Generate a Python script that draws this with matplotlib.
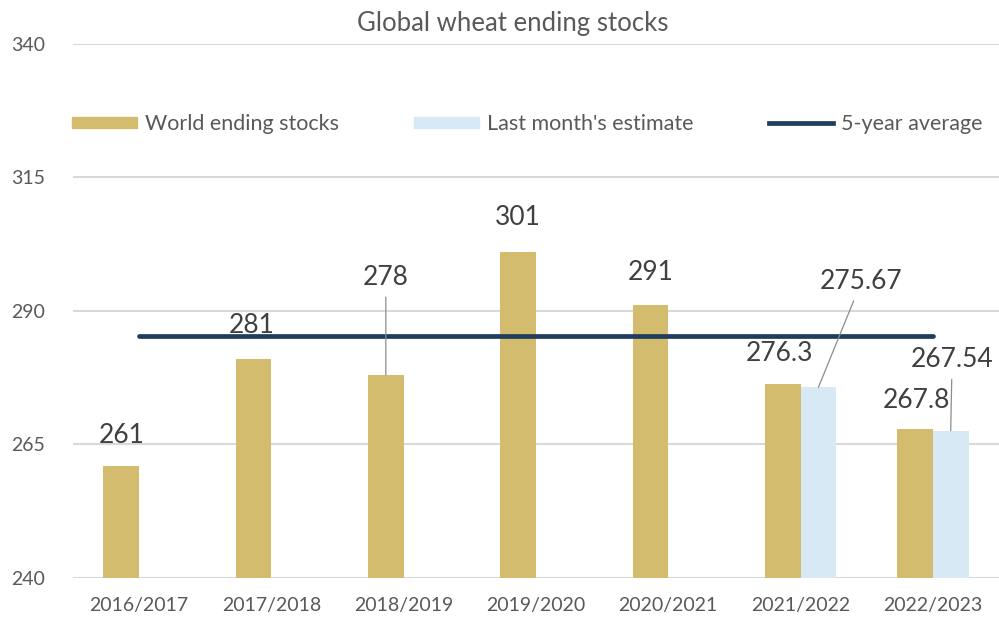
import numpy as np
import matplotlib
matplotlib.use("Agg")
import matplotlib.pyplot as plt
from matplotlib.lines import Line2D
from matplotlib.patches import Patch

plt.rcParams['font.family'] = ['Lato', 'DejaVu Sans']

seasons = ["2016/2017", "2017/2018", "2018/2019", "2019/2020",
           "2020/2021", "2021/2022", "2022/2023"]
world_stocks = [261, 281, 278, 301, 291, 276.3, 267.8]
# last month's estimate only exists for the two latest seasons
last_month = [None, None, None, None, None, 275.67, 267.54]
five_year_avg = 285.3

tan = "#d4bc6e"
light_blue = "#d7e9f5"
navy = "#1f3d5c"
grey_text = "#595959"
label_text = "#404040"

fig = plt.figure(figsize=(9.99, 6.24), dpi=100)
ax = fig.add_axes([0.073, 0.074, 0.927, 0.856])

x = np.arange(len(seasons))
w = 0.27

world_bars = ax.bar(x - w / 2, world_stocks, w, color=tan, zorder=2)
est_idx = [i for i, v in enumerate(last_month) if v is not None]
est_vals = [last_month[i] for i in est_idx]
est_bars = ax.bar(x[est_idx] + w / 2, est_vals, w, color=light_blue, zorder=2)

ax.plot([x[0], x[-1]], [five_year_avg, five_year_avg], color=navy,
        linewidth=3.4, solid_capstyle="round", zorder=3)

# data labels: (dx, dy) offsets in points, leader line or not
world_offsets = [(0, 22, False), (-1, 24, False), (0, 70, True), (0, 25, False),
                 (0, 24, False), (-2, 22, False), (1, 21, False)]
est_offsets = [(31, 76, True), (1, 51, True)]

def put_label(bar, value, off):
    dx, dy, leader = off
    xc = bar.get_x() + bar.get_width() / 2
    kw = {}
    if leader:
        kw["arrowprops"] = dict(arrowstyle="-", color="#8c8c8c", lw=0.9,
                                shrinkA=3, shrinkB=0)
    ax.annotate(f"{value:g}", xy=(xc, value), xytext=(dx, dy),
                textcoords="offset points", ha="center", va="center",
                fontsize=19, color=label_text, zorder=4, **kw)

for bar, v, off in zip(world_bars, world_stocks, world_offsets):
    put_label(bar, v, off)
for bar, v, off in zip(est_bars, est_vals, est_offsets):
    put_label(bar, v, off)

ax.set_ylim(240, 340)
ax.set_yticks([240, 265, 290, 315, 340])
ax.set_xlim(-0.5, len(seasons) - 0.5)
ax.set_xticks(x)
ax.set_xticklabels(seasons)
ax.tick_params(axis="both", length=0, labelsize=14, colors=grey_text)
ax.tick_params(axis="y", pad=20)
ax.tick_params(axis="x", pad=14)
ax.grid(axis="y", color="#d9d9d9", linewidth=1.5, zorder=0)
for s in ax.spines.values():
    s.set_visible(False)

handles = [Patch(color=tan), Patch(color=light_blue),
           Line2D([], [], color=navy, linewidth=3.4)]
ax.legend(handles, ["World ending stocks", "Last month's estimate", "5-year average"],
          loc="center", bbox_to_anchor=(0.491, 0.85), ncol=3, frameon=False,
          fontsize=15.5, labelcolor=grey_text, handlelength=3.0,
          handleheight=0.4, handletextpad=0.37, columnspacing=3.5)

fig.text(0.513, 0.963, "Global wheat ending stocks", ha="center", va="center",
         fontsize=18.5, color=grey_text)

fig.savefig("out.png", dpi=100)
